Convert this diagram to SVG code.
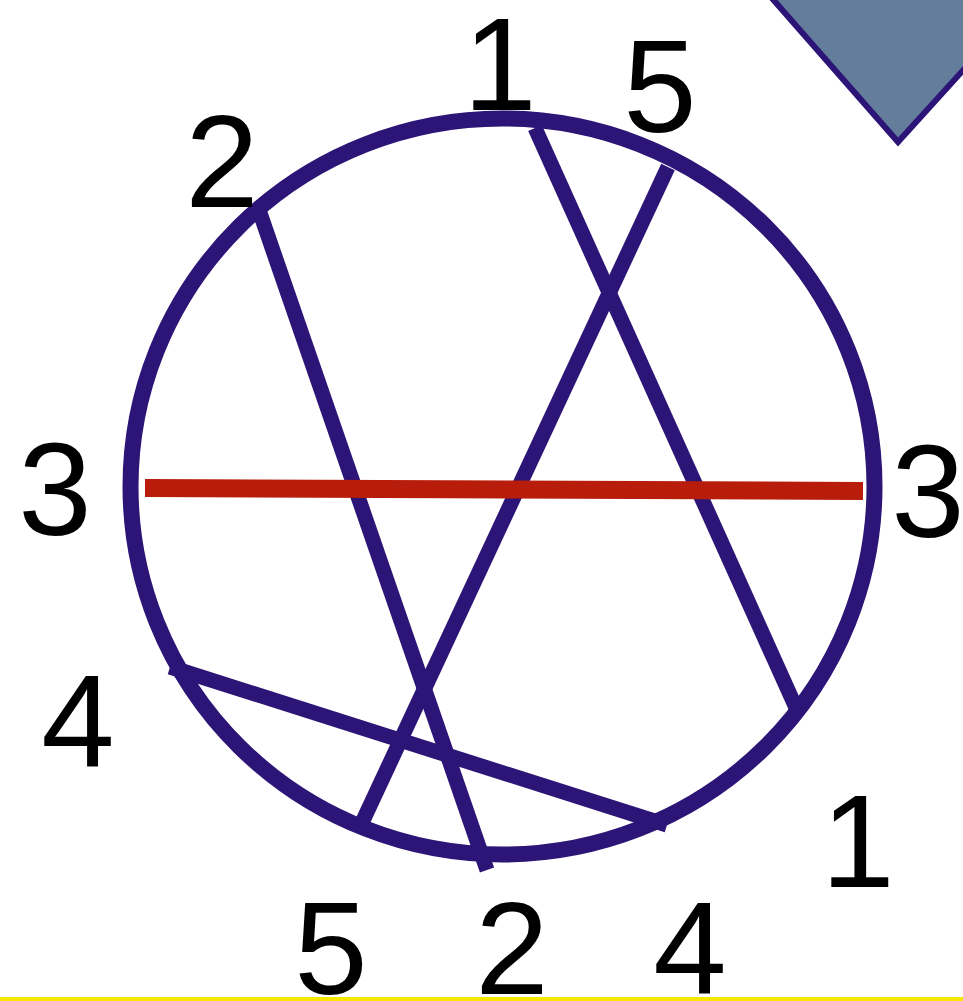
<svg xmlns="http://www.w3.org/2000/svg" width="963" height="1001" viewBox="0 0 963 1001">
<style>
.lbl{font-family:"Liberation Sans",Arial,sans-serif;font-size:132px;fill:#000;text-anchor:middle}
.chord{stroke:#2c1577;stroke-width:15;fill:none;stroke-linecap:butt}
</style>
<rect width="963" height="1001" fill="#fff"/>
<g id="corner">
<polygon points="770,-4 898,142 967,66 967,-4" fill="#647d9b" stroke="#2c1577" stroke-width="6"/>
</g>
<g id="circle">
<ellipse cx="502.5" cy="486.5" rx="372" ry="368" fill="none" stroke="#2c1577" stroke-width="16"/>
</g>
<g id="connectors">
<line class="chord" x1="535" y1="128" x2="797" y2="710"/>
<line class="chord" x1="668" y1="167" x2="360" y2="827"/>
<line class="chord" x1="260" y1="213" x2="487" y2="870"/>
<line class="chord" x1="170" y1="667" x2="667" y2="825"/>
<line x1="145" y1="488" x2="863" y2="491" stroke="#b81c0a" stroke-width="18"/>
</g>
<g id="labels">
<text class="lbl" x="500" y="110">1</text>
<text class="lbl" x="660" y="132">5</text>
<text class="lbl" x="222" y="207">2</text>
<text class="lbl" x="55" y="535">3</text>
<text class="lbl" x="928" y="537">3</text>
<text class="lbl" x="78" y="767">4</text>
<text class="lbl" x="858" y="887">1</text>
<text class="lbl" x="331" y="994">5</text>
<text class="lbl" x="512" y="994">2</text>
<text class="lbl" x="690" y="994">4</text>
</g>
<rect x="0" y="997" width="963" height="4" fill="#f4e600"/>
</svg>
